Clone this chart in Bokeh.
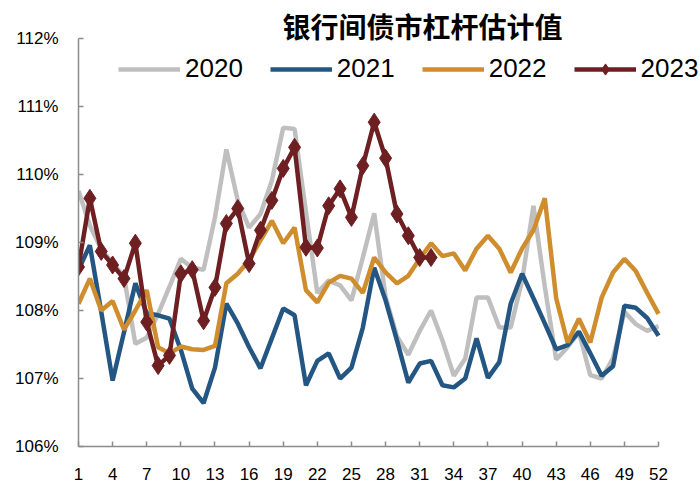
from bokeh.plotting import figure
from bokeh.models import Range1d, FixedTicker, Legend, LegendItem, Label
from bokeh.embed import file_html
from bokeh.resources import INLINE

weeks = list(range(1, 53))

s2020 = [109.76, 109.25, 108.90, 108.70, 108.50, 107.51, 107.60, 107.95, 108.35, 108.76,
         108.63, 108.60, 109.37, 110.37, 109.62, 109.22, 109.42, 109.91, 110.69, 110.67,
         109.45, 108.26, 108.44, 108.37, 108.15, 108.78, 109.43, 108.20, 107.62, 107.35,
         107.70, 108.00, 107.56, 107.04, 107.29, 108.19, 108.19, 107.75, 107.75, 108.44,
         109.54, 108.35, 107.28, 107.46, 107.68, 107.05, 107.00, 107.30, 107.98, 107.80,
         107.70, 107.77]
s2021 = [108.60, 108.96, 107.98, 106.97, 107.68, 108.40, 107.96, 107.93, 107.88, 107.42,
         106.85, 106.64, 107.16, 108.10, 107.81, 107.46, 107.15, 107.59, 108.03, 107.93,
         106.90, 107.26, 107.37, 107.00, 107.16, 107.75, 108.63, 108.15, 107.56, 106.94,
         107.22, 107.26, 106.90, 106.87, 107.00, 107.59, 107.01, 107.24, 108.10, 108.54,
         108.18, 107.81, 107.43, 107.49, 107.69, 107.37, 107.04, 107.18, 108.07, 108.04,
         107.89, 107.63]
s2022 = [108.10, 108.47, 108.00, 108.14, 107.72, 108.00, 108.30, 107.46, 107.37, 107.47,
         107.43, 107.42, 107.48, 108.40, 108.54, 108.74, 109.03, 109.32, 108.99, 109.22,
         108.30, 108.12, 108.41, 108.51, 108.47, 108.26, 108.78, 108.56, 108.40, 108.51,
         108.76, 108.99, 108.80, 108.84, 108.59, 108.91, 109.10, 108.91, 108.56, 108.91,
         109.18, 109.65, 108.18, 107.53, 107.88, 107.53, 108.19, 108.56, 108.76, 108.58,
         108.26, 107.95]
weeks2023 = list(range(1, 33))
s2023 = [108.64, 109.65, 108.87, 108.67, 108.47, 108.99, 107.83, 107.19, 107.34, 108.54,
         108.60, 107.85, 108.34, 109.28, 109.50, 108.69, 109.18, 109.62, 110.09, 110.40,
         108.93, 108.92, 109.54, 109.79, 109.37, 110.13, 110.77, 110.24, 109.42, 109.10,
         108.78, 108.78]

x_ticks = list(range(1, 53, 3))
y_ticks = [106, 107, 108, 109, 110, 111, 112]
y_tick_labels = ["106%", "107%", "108%", "109%", "110%", "111%", "112%"]
series_names = ["2020", "2021", "2022", "2023"]
title_text = "银行间债市杠杆估计值"

colors = ["#BFBFBF", "#245683", "#CF8D2E", "#6E1F22"]
FONT = "'Liberation Sans', Arial, sans-serif"

# frame extends beyond the axes (axis bounds limit the drawn axes) so that
# the title and legend, which sit inside the plot area, are not clipped
p = figure(width=700, height=495, output_backend="svg", toolbar_location=None,
           x_range=Range1d(1, 55.69), y_range=Range1d(106, 112.56),
           min_border_left=78, min_border_right=0, min_border_top=0, min_border_bottom=49)
p.outline_line_color = None
p.xgrid.visible = False
p.ygrid.visible = False
p.background_fill_color = "white"

lw = 4.5
r0 = p.line(weeks, s2020, line_color=colors[0], line_width=lw)
r1 = p.line(weeks, s2021, line_color=colors[1], line_width=lw)
r2 = p.line(weeks, s2022, line_color=colors[2], line_width=lw)
r3 = p.line(weeks2023, s2023, line_color=colors[3], line_width=lw)
r3m = p.scatter(weeks2023, s2023, marker="diamond", size=18,
                fill_color=colors[3], line_color=colors[3])

legend = Legend(items=[LegendItem(label=series_names[0], renderers=[r0]),
                       LegendItem(label=series_names[1], renderers=[r1]),
                       LegendItem(label=series_names[2], renderers=[r2]),
                       LegendItem(label=series_names[3], renderers=[r3, r3m])],
                orientation="horizontal", location=(40, 362))
legend.padding = 0
legend.margin = 0
legend.spacing = 27
legend.glyph_width = 62
legend.glyph_height = 28
legend.label_height = 28
legend.label_standoff = 5
legend.label_text_font = FONT
legend.label_text_font_size = "26px"
legend.label_text_color = "#000000"
legend.background_fill_alpha = 0
legend.border_line_alpha = 0
p.add_layout(legend, "center")

for ax in (p.xaxis[0], p.yaxis[0]):
    ax.axis_line_color = "#8C8C8C"
    ax.axis_line_width = 1.5
    ax.major_tick_line_color = "#8C8C8C"
    ax.major_tick_line_width = 1.5
    ax.major_tick_in = 5
    ax.major_tick_out = 0
    ax.minor_tick_line_color = None
    ax.major_label_text_font = FONT
    ax.major_label_text_font_size = "17px"
    ax.major_label_text_color = "#000000"

p.xaxis.ticker = FixedTicker(ticks=x_ticks)
p.xaxis.bounds = (1, 52)
p.xaxis.major_label_standoff = 21
p.yaxis.ticker = FixedTicker(ticks=y_ticks)
p.yaxis.bounds = (106, 112)
p.yaxis.major_label_overrides = {t: l for t, l in zip(y_ticks, y_tick_labels)}
p.yaxis.major_label_standoff = 20

title = Label(x=31.25, y=112.19, text=title_text, text_align="center", text_baseline="middle",
              text_font="Noto Sans CJK SC", text_font_size="28px", text_font_style="bold",
              text_color="#000000")
p.add_layout(title)

open("out.html", "w").write(file_html(p, INLINE))
